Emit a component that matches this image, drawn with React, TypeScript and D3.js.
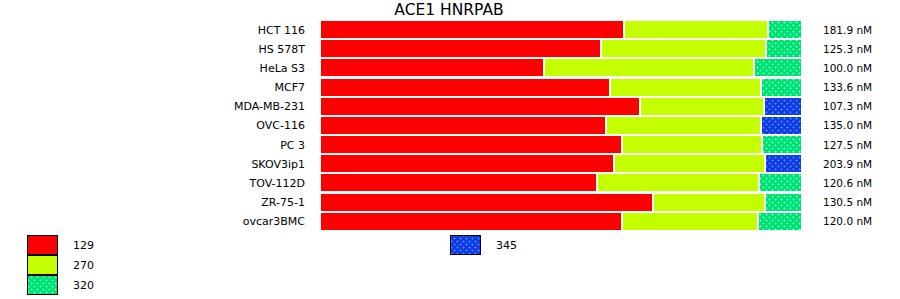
import React from "react";
import * as d3 from "d3";

const title = "ACE1 HNRPAB";
const cellLines = ["HCT 116", "HS 578T", "HeLa S3", "MCF7", "MDA-MB-231", "OVC-116", "PC 3", "SKOV3ip1", "TOV-112D", "ZR-75-1", "ovcar3BMC"];
const share129 = [63.1, 58.3, 46.5, 60.2, 66.4, 59.3, 62.7, 61.0, 57.5, 69.1, 62.7];
const share270 = [29.9, 34.2, 43.5, 31.3, 25.7, 32.2, 29.0, 31.3, 33.6, 23.2, 28.2];
const share3xx = [7.0, 7.5, 10.0, 8.5, 7.9, 8.5, 8.3, 7.7, 8.9, 7.7, 9.1];
const third = ["320", "320", "320", "320", "345", "345", "320", "345", "320", "320", "320"];
const valueLabels = ["181.9 nM", "125.3 nM", "100.0 nM", "133.6 nM", "107.3 nM", "135.0 nM", "127.5 nM", "203.9 nM", "120.6 nM", "130.5 nM", "120.0 nM"];
const legendLeft = ["129", "270", "320"];
const legendRight = ["345"];

const FONT = "DejaVu Sans, Verdana, sans-serif";

const fills: Record<string, string> = {
  "129": "#ff0000",
  "270": "#c4ff00",
  "320": "url(#pat320)",
  "345": "url(#pat345)",
};

export default function App() {
  const x = d3.scaleLinear().domain([0, 100]).range([321, 803]);
  const y = d3.scaleBand<number>().domain(d3.range(cellLines.length)).range([21, 21 + 19 * cellLines.length]).paddingInner(2 / 19).paddingOuter(0);
  const bh = 17;
  const rowY = (i: number) => 21 + 19 * i;

  const plus = (cx: number, cy: number, c: string) => (
    <g fill={c}>
      <rect x={cx - 1} y={cy} width={3} height={1} />
      <rect x={cx} y={cy - 1} width={1} height={3} />
    </g>
  );

  const pattern = (id: string, base: string, dot: string) => (
    <pattern id={id} width={6} height={6} patternUnits="userSpaceOnUse">
      <rect width={6} height={6} fill={base} />
      {plus(1, 1, dot)}
      {plus(4, 4, dot)}
    </pattern>
  );

  return (
    <svg width={900} height={299} style={{ position: "absolute", left: 0, top: 0, background: "#fff" }} shapeRendering="crispEdges">
      <defs>
        {pattern("pat320", "#00dd77", "#33ff99")}
        {pattern("pat345", "#0a3ae0", "#3a6cff")}
      </defs>
      <rect width={900} height={299} fill="#fff" />
      <text x={449} y={15} textAnchor="middle" fontFamily={FONT} fontSize={15.5} fill="#000">{title}</text>
      {cellLines.map((name, i) => {
        const vals = [share129[i], share270[i], share3xx[i]];
        const keys = ["129", "270", third[i]];
        let cum = 0;
        const yy = y(i) ?? rowY(i);
        return (
          <g key={name}>
            <text x={305} y={yy + bh / 2 + 4} textAnchor="end" fontFamily={FONT} fontSize={11} fill="#000">{name}</text>
            {vals.map((v, j) => {
              const x0 = x(cum);
              cum += v;
              const x1 = x(cum);
              return <rect key={j} x={x0} y={yy} width={Math.max(0, x1 - x0 - 2)} height={bh} fill={fills[keys[j]]} />;
            })}
            <text x={823} y={yy + bh / 2 + 4} fontFamily={FONT} fontSize={10.5} fill="#000">{valueLabels[i]}</text>
          </g>
        );
      })}
      {legendLeft.map((k, i) => (
        <g key={k}>
          <rect x={27.5} y={235.5 + 20 * i} width={30} height={19} fill={fills[k]} stroke="#000" strokeWidth={1} />
          <text x={73} y={245 + 20 * i + 4} fontFamily={FONT} fontSize={11} fill="#000">{k}</text>
        </g>
      ))}
      {legendRight.map((k, i) => (
        <g key={k}>
          <rect x={450.5} y={235.5 + 20 * i} width={30} height={19} fill={fills[k]} stroke="#000" strokeWidth={1} />
          <text x={496} y={245 + 20 * i + 4} fontFamily={FONT} fontSize={11} fill="#000">{k}</text>
        </g>
      ))}
    </svg>
  );
}
